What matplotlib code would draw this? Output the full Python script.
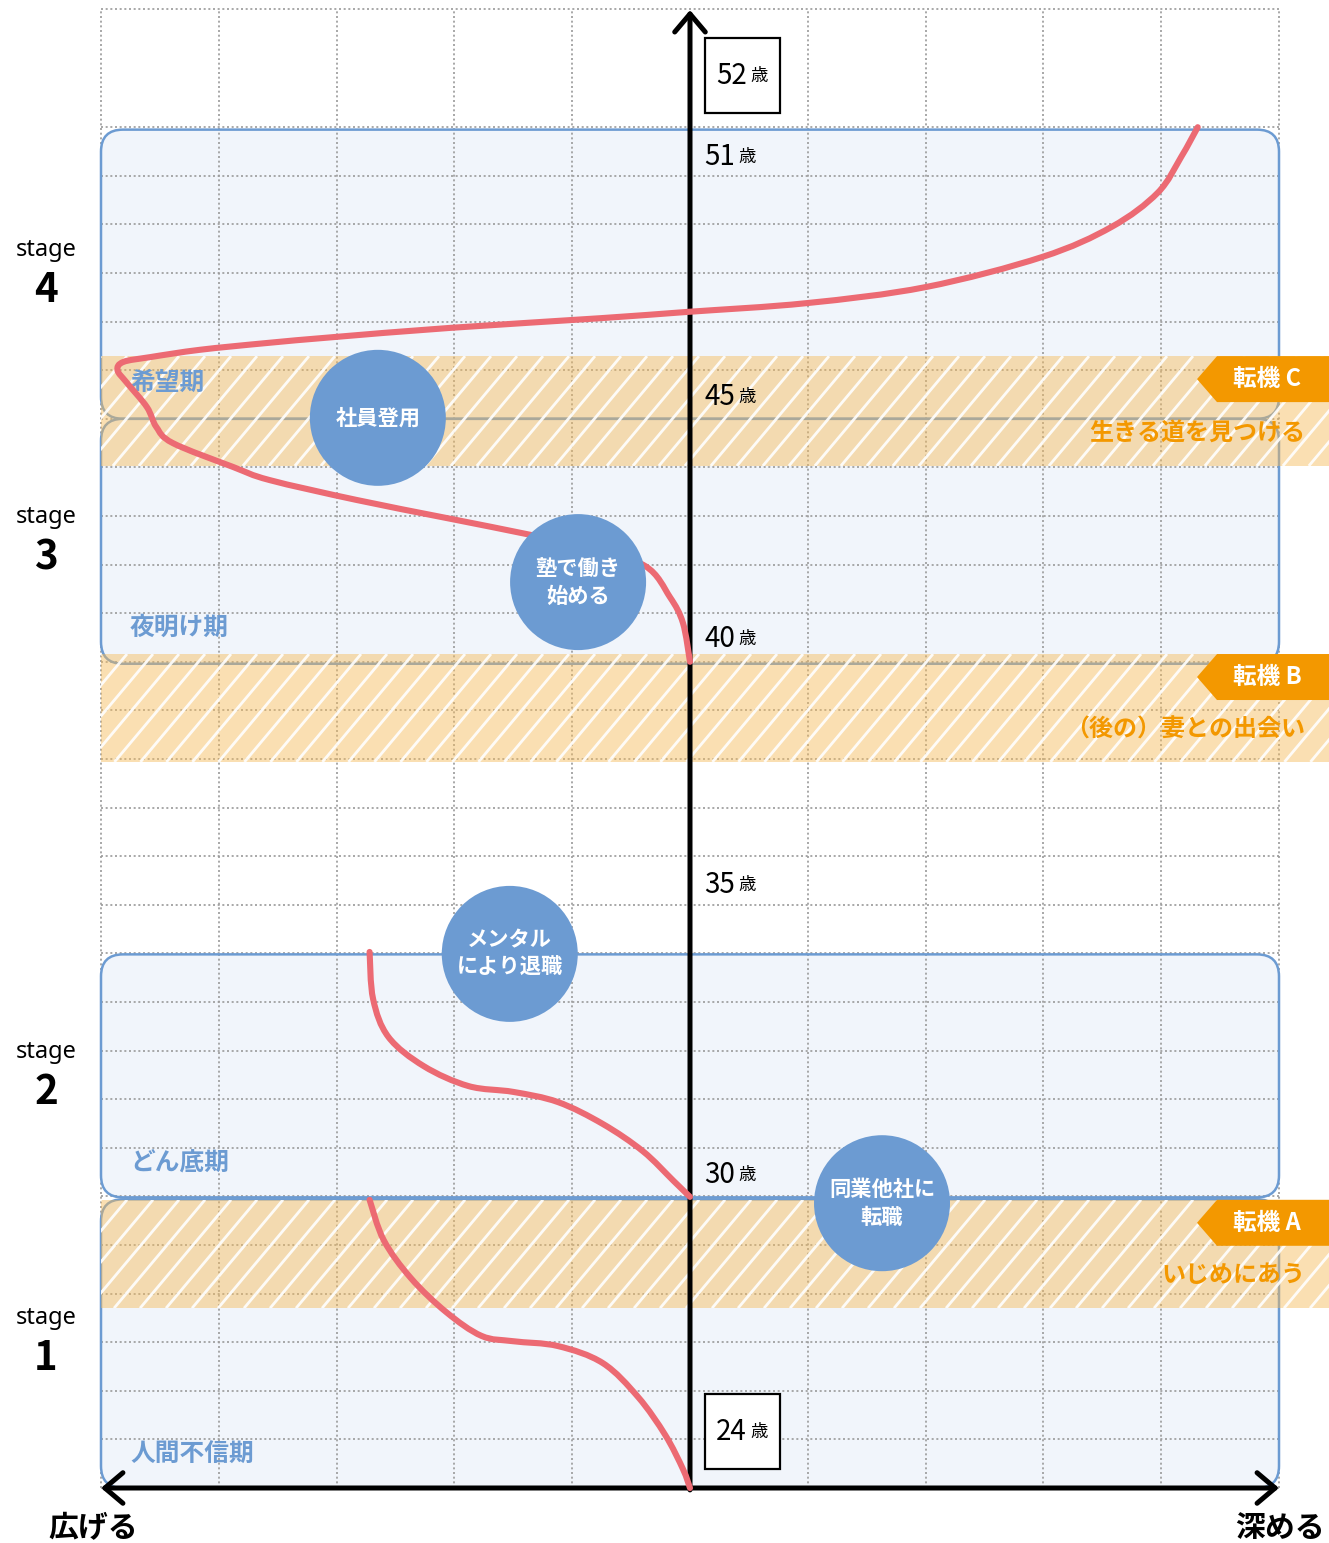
import matplotlib
matplotlib.use("Agg")
import matplotlib.pyplot as plt
import numpy as np
from matplotlib.patches import FancyBboxPatch, Polygon, Rectangle, PathPatch
from matplotlib.path import Path

plt.rcParams["font.family"] = ["Noto Sans CJK JP", "DejaVu Sans"]

# 座標: x = 中心軸からの列数 (広げる < 0 < 深める), y = 24歳からの行数
STAGE_NUMS = ["1", "2", "3", "4"]
STAGE_PERIODS = ["人間不信期", "どん底期", "夜明け期", "希望期"]
STAGE_LO = [0.0, 5.98, 16.96, 22.0]
STAGE_HI = [5.94, 10.98, 22.0, 27.95]
STAGE_WORD_Y = [3.50, 8.97, 19.98, 25.47]
PERIOD_Y = [0.68, 6.69, 17.70, 22.74]

TURN_NAMES = ["転機 A", "転機 B", "転機 C"]
TURN_EVENTS = ["いじめにあう", "（後の）妻との出会い", "生きる道を見つける"]
BAND_LO = [3.70, 14.94, 21.03]
BAND_HI = [5.93, 17.16, 23.29]
TURN_EVENT_Y = [4.38, 15.60, 21.71]

AGE_NUMS = ["24", "30", "35", "40", "45", "51", "52"]
AGE_Y = [1.15, 6.44, 12.41, 17.47, 22.45, 27.39, 29.05]
AGE_BOXED = [True, False, False, False, False, False, True]

MILESTONES = ["同業他社に\n転職", "メンタル\nにより退職", "塾で働き\n始める", "社員登用"]
MILESTONE_X = [1.63, -1.53, -0.95, -2.65]
MILESTONE_Y = [5.86, 10.99, 18.64, 22.02]

SEG1_X = [-2.72, -2.60, -2.37, -2.07, -1.77, -1.50, -1.12, -0.74, -0.44, -0.21, -0.06, 0.0]
SEG1_Y = [5.93, 5.10, 4.32, 3.62, 3.13, 3.02, 2.92, 2.57, 1.87, 1.09, 0.39, 0.0]

SEG2_X = [-2.72, -2.69, -2.56, -2.26, -1.88, -1.50, -1.12, -0.74, -0.40, -0.14, 0.0]
SEG2_Y = [11.03, 10.06, 9.28, 8.68, 8.27, 8.15, 7.94, 7.49, 6.93, 6.32, 5.99]

SEG3_X = [0.0, -0.06, -0.17, -0.38, -0.85, -1.35, -2.07, -2.83, -3.57, -3.88, -4.39,
          -4.53, -4.61, -4.78, -4.86, -4.81, -4.58, -4.16, -3.59, -3.03, -2.04,
          -0.76, -0.02, 0.99, 2.00, 2.99, 3.58, 3.97, 4.17, 4.31]
SEG3_Y = [17.0, 17.80, 18.33, 18.97, 19.34, 19.61, 19.96, 20.33, 20.74, 21.01, 21.50,
          21.83, 22.24, 22.74, 23.0, 23.17, 23.27, 23.42, 23.56, 23.68, 23.87,
          24.07, 24.20, 24.38, 24.71, 25.33, 25.95, 26.65, 27.39, 28.0]

# 見た目
PX_X, PX_Y = 117.8, 48.6        # 1単位あたりのピクセル
W, H = 1329, 1543
BLUE = "#6c9bd2"
BOX_FILL = "#f1f5fb"
ORANGE = "#f39800"
RED = "#ec6a73"


def smooth_path(xs, ys):
    """読み取った点を通る Catmull-Rom 曲線 (ピクセル比で等方化して計算)."""
    k = PX_Y / PX_X
    pts = np.column_stack([xs, np.asarray(ys) * k])
    n = len(pts)
    verts, codes = [pts[0]], [Path.MOVETO]
    for i in range(n - 1):
        p0, p1 = pts[max(i - 1, 0)], pts[i]
        p2, p3 = pts[i + 1], pts[min(i + 2, n - 1)]
        verts += [p1 + (p2 - p0) / 6, p2 - (p3 - p1) / 6, p2]
        codes += [Path.CURVE4] * 3
    verts = np.array(verts)
    verts[:, 1] /= k
    return Path(verts, codes)


fig = plt.figure(figsize=(W / 100, H / 100), dpi=100)
ax = fig.add_axes([0, 0, 1, 1])
ax.set_xlim(-690 / PX_X, (W - 690) / PX_X)
ax.set_ylim(-(H - 1488) / PX_Y, 1488 / PX_Y)
ax.axis("off")
x_right = (W - 690) / PX_X
y_top = 30.43

# grid
dot = (0, (1.2, 1.6))
ax.vlines(np.arange(-5, 6), 0, y_top, colors="#9a9a9a", lw=1.2, linestyles=dot, zorder=1)
ax.hlines(list(np.arange(0, 29)) + [y_top], -5, 5, colors="#9a9a9a", lw=1.2,
          linestyles=dot, zorder=1)

# stage boxes
r = 22 / PX_X
for lo, hi in zip(STAGE_LO, STAGE_HI):
    for fill, z in ((True, 0.5), (False, 1.5)):
        ax.add_patch(FancyBboxPatch(
            (-5, lo), 10, hi - lo, boxstyle=f"round,pad=0,rounding_size={r}",
            mutation_aspect=PX_X / PX_Y,
            facecolor=BOX_FILL if fill else "none",
            edgecolor="none" if fill else BLUE, lw=1.8, zorder=z))

# turning-point bands
ang = np.radians(50)
for name, ev, lo, hi, ey in zip(TURN_NAMES, TURN_EVENTS, BAND_LO, BAND_HI, TURN_EVENT_Y):
    ax.add_patch(Rectangle((-5, lo), x_right + 5, hi - lo, facecolor="#f6ba56",
                           alpha=0.45, edgecolor="none", zorder=2))
    clip = Rectangle((-5, lo), x_right + 5, hi - lo, transform=ax.transData)
    shift = (hi - lo) * PX_Y / np.tan(ang) / PX_X
    for xs in np.arange(-5 - shift, x_right, 26 / PX_X):
        ln, = ax.plot([xs, xs + shift], [lo, hi], color="white", lw=2.0,
                      alpha=0.9, zorder=2.1, solid_capstyle="butt")
        ln.set_clip_path(clip)
    top, bot = hi, hi - 46 / PX_Y
    tip, body = (1197 - 690) / PX_X, (1217 - 690) / PX_X
    ax.add_patch(Polygon([(tip, (top + bot) / 2), (body, top), (x_right, top),
                          (x_right, bot), (body, bot)], closed=True,
                         facecolor=ORANGE, edgecolor="none", zorder=3))
    ax.text((1267 - 690) / PX_X, (top + bot) / 2, name, color="white", fontsize=17,
            fontweight="bold", ha="center", va="center", zorder=3.1)
    ax.text((1305 - 690) / PX_X, ey, ev, color=ORANGE, fontsize=17.3,
            fontweight="bold", ha="right", va="center", zorder=3.1)

# stage labels, period labels
for num, per, wy, py in zip(STAGE_NUMS, STAGE_PERIODS, STAGE_WORD_Y, PERIOD_Y):
    ax.text(-644 / PX_X, wy, "stage", fontsize=17, ha="center", va="center",
            family=["Noto Sans", "DejaVu Sans"])
    ax.text(-644 / PX_X, wy - 0.84, num, fontsize=29, fontweight="bold",
            ha="center", va="center")
    ax.text(-560 / PX_X, py, per, color=BLUE, fontsize=17.8, fontweight="bold",
            ha="left", va="center", zorder=3.2)

# axes arrows
ax.annotate("", xy=(0, y_top - 0.02), xytext=(0, -0.04),
            arrowprops=dict(arrowstyle="->,head_length=0.65,head_width=0.55",
                            lw=3.6, color="black", mutation_scale=20,
                            shrinkA=0, shrinkB=0), zorder=4)
ax.annotate("", xy=(5.0, 0), xytext=(-5.0, 0),
            arrowprops=dict(arrowstyle="<->,head_length=0.65,head_width=0.55",
                            lw=3.6, color="black", mutation_scale=20,
                            shrinkA=0, shrinkB=0), zorder=4)
ax.text(-5.07, -0.82, "広げる", fontsize=21.5, fontweight="bold", ha="center", va="center")
ax.text(5.01, -0.82, "深める", fontsize=21.5, fontweight="bold", ha="center", va="center")

# life curve
for xs, ys in ((SEG1_X, SEG1_Y), (SEG2_X, SEG2_Y), (SEG3_X, SEG3_Y)):
    ax.add_patch(PathPatch(smooth_path(xs, ys), facecolor="none", edgecolor=RED,
                           lw=4.4, capstyle="round", joinstyle="round", zorder=4.5))

# milestones
ax.scatter(MILESTONE_X, MILESTONE_Y, s=(136 * 0.72) ** 2, color=BLUE,
           edgecolors="none", zorder=5)
for t, x, y in zip(MILESTONES, MILESTONE_X, MILESTONE_Y):
    ax.text(x, y, t, color="white", fontsize=15.3, fontweight="bold", ha="center",
            va="center", linespacing=1.4, zorder=6)

# ages
for num, y, boxed in zip(AGE_NUMS, AGE_Y, AGE_BOXED):
    if boxed:
        ax.add_patch(Rectangle((15 / PX_X, y - 37 / PX_Y), 75 / PX_X, 75 / PX_Y,
                               facecolor="white", edgecolor="black", lw=1.6, zorder=6))
        x0 = 0.22
    else:
        x0 = 0.12
    ax.text(x0, y, num, fontsize=20, ha="left", va="center", zorder=6.5,
            family=["Liberation Sans Narrow", "Noto Sans CJK JP"])
    ax.text(x0 + 0.29, y, "歳", fontsize=12.5, ha="left", va="center", zorder=6.5)

fig.savefig("out.png", dpi=100)
